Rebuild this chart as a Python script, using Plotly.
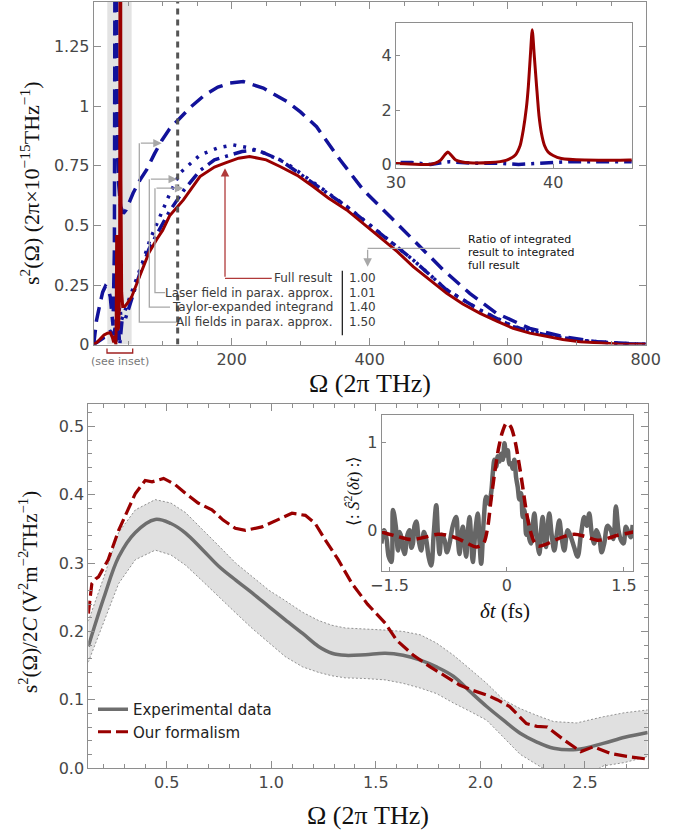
import plotly.graph_objects as go

# ---------------- data: top panel (Omega in 2pi THz) ----------------
omega_full = [0, 5, 10, 15, 20, 24, 27, 29, 30, 32.1, 32.5, 32.84, 33.1, 33.3, 33.5, 33.8, 34.2,
              34.63, 36.0, 37.0, 37.58, 37.9, 38.1, 38.3, 38.42, 38.55, 38.67, 38.8, 38.95, 39.1,
              39.26, 39.45, 39.68, 40.0, 40.52, 42.0, 44.84, 48, 55, 67, 80, 91, 100, 110, 130,
              154, 175, 190, 210, 226, 250, 270, 295, 318, 340, 366.7, 390, 415, 440, 463, 487,
              511.6, 535, 560, 585, 608, 632, 656, 680, 705, 730, 760, 800]
s2_full = [0.0, 0.01, 0.025, 0.04, 0.048, 0.05, 0.03, 0.01, 0.037, 0.0, 0.05, 0.16, 0.35, 0.46,
           0.35, 0.16, 0.09, 0.06, 0.07, 0.15, 0.34, 0.7, 1.27, 2.1, 2.86, 4.0, 4.96, 4.0, 2.86,
           1.8, 1.14, 0.7, 0.46, 0.33, 0.22, 0.16, 0.16, 0.17, 0.2, 0.29, 0.385, 0.44, 0.48,
           0.54, 0.607, 0.705, 0.745, 0.761, 0.782, 0.789, 0.775, 0.747, 0.71, 0.663, 0.615,
           0.565, 0.51, 0.453, 0.39, 0.327, 0.27, 0.215, 0.17, 0.131, 0.097, 0.068, 0.048,
           0.033, 0.021, 0.012, 0.007, 0.003, 0.001]

omega_allpar = [0, 4, 9, 13, 17, 21, 24, 26, 28, 30, 31, 32, 33, 34, 36, 39, 43, 47, 52, 57, 67,
                77, 88, 98.5, 110, 120, 140, 160, 180, 197.5, 216.8, 245.8, 279.7, 300, 323, 357,
                390.7, 429.4, 468, 506.7, 545, 584, 632, 680.6, 729, 770, 800]
s2_allpar = [0, 0.1, 0.17, 0.22, 0.245, 0.235, 0.2, 0.12, 0.08, 0.4, 2.5, 3.5, 1.6, 0.95, 0.68,
             0.58, 0.55, 0.565, 0.6, 0.635, 0.69, 0.735, 0.8, 0.855, 0.905, 0.935, 0.995, 1.045,
             1.08, 1.097, 1.103, 1.076, 1.02, 0.975, 0.914, 0.775, 0.649, 0.537, 0.425, 0.313,
             0.215, 0.131, 0.068, 0.033, 0.012, 0.004, 0.001]

omega_laser = [0, 5, 10, 15, 20, 25, 28, 30, 31, 32.2, 33.4, 35, 36.7, 37.8, 39.5, 41, 45, 50,
               55, 67, 80, 91, 100, 110, 130, 154, 175, 197.5, 215, 236, 270, 318, 366.7, 415,
               463, 511.6, 560, 608, 656, 705, 755, 800]
s2_laser = [0, 0.01, 0.02, 0.03, 0.04, 0.05, 0.03, 0.07, 0.07, 0.0, 0.1, 0.04, 0.04, 0.0, 0.04,
            0.1, 0.1, 0.15, 0.19, 0.3, 0.4, 0.46, 0.505, 0.56, 0.645, 0.73, 0.775, 0.796, 0.81,
            0.817, 0.775, 0.677, 0.579, 0.467, 0.355, 0.229, 0.145, 0.075, 0.04, 0.018, 0.005,
            0.001]

omega_taylor = [0, 10, 20, 28, 32, 35, 38, 40, 45, 55, 63, 72, 81.6, 96, 110.6, 125, 154, 180,
                202, 226, 250, 280, 318, 366.7, 415, 463, 511.6, 560, 608, 656, 705, 755, 800]
s2_taylor = [0, 0.02, 0.05, 0.06, 0.05, 0.12, 0.16, 0.1, 0.14, 0.22, 0.28, 0.355, 0.44, 0.537,
             0.635, 0.72, 0.795, 0.825, 0.838, 0.825, 0.8, 0.76, 0.68, 0.58, 0.468, 0.355, 0.23,
             0.145, 0.077, 0.04, 0.018, 0.006, 0.001]

row_labels = ["Full result", "Laser field in parax. approx.",
              "Taylor-expanded integrand", "All fields in parax. approx."]
row_ratios = ["1.00", "1.01", "1.40", "1.50"]

# ---------------- data: bottom panel (Omega in 2pi THz) ----------------
omega_exp = [0.125, 0.2, 0.27, 0.35, 0.445, 0.52, 0.59, 0.67, 0.75, 0.83, 0.91, 0.99, 1.067,
             1.15, 1.226, 1.29, 1.354, 1.45, 1.545, 1.63, 1.713, 1.79, 1.872, 1.95, 2.03, 2.11,
             2.19, 2.27, 2.35, 2.46, 2.587, 2.69, 2.8]
exp_mid = [0.178, 0.25, 0.309, 0.345, 0.364, 0.358, 0.344, 0.32, 0.295, 0.275, 0.256, 0.236,
           0.217, 0.197, 0.178, 0.168, 0.165, 0.166, 0.168, 0.165, 0.158, 0.148, 0.134, 0.112,
           0.09, 0.07, 0.051, 0.038, 0.029, 0.027, 0.036, 0.045, 0.052]
exp_hi = [0.215, 0.28, 0.345, 0.378, 0.393, 0.388, 0.374, 0.35, 0.325, 0.3, 0.28, 0.26, 0.245,
          0.228, 0.216, 0.209, 0.205, 0.204, 0.202, 0.2, 0.195, 0.183, 0.165, 0.145, 0.124, 0.1,
          0.087, 0.077, 0.068, 0.066, 0.075, 0.081, 0.085]
exp_lo = [0.155, 0.215, 0.27, 0.305, 0.319, 0.312, 0.297, 0.274, 0.25, 0.227, 0.204, 0.183,
          0.163, 0.148, 0.14, 0.135, 0.132, 0.131, 0.129, 0.124, 0.117, 0.109, 0.095, 0.083,
          0.07, 0.045, 0.02, 0.005, -0.01, -0.02, 0.003, 0.008, 0.017]

omega_model = [0.125, 0.135, 0.142, 0.16, 0.174, 0.22, 0.27, 0.31, 0.35, 0.397, 0.43, 0.485,
               0.54, 0.59, 0.65, 0.716, 0.77, 0.828, 0.876, 0.955, 1.03, 1.099, 1.163, 1.21,
               1.258, 1.32, 1.386, 1.46, 1.545, 1.6, 1.68, 1.76, 1.83, 1.9, 1.96, 2.03, 2.08,
               2.14, 2.22, 2.27, 2.32, 2.4, 2.48, 2.54, 2.62, 2.7, 2.8]
model_val = [0.226, 0.25, 0.27, 0.277, 0.28, 0.305, 0.348, 0.375, 0.402, 0.421, 0.419, 0.424,
             0.415, 0.402, 0.388, 0.378, 0.363, 0.351, 0.348, 0.353, 0.363, 0.373, 0.37, 0.358,
             0.334, 0.305, 0.27, 0.24, 0.212, 0.187, 0.165, 0.148, 0.135, 0.1215, 0.114, 0.107,
             0.1, 0.09, 0.065, 0.061, 0.06, 0.041, 0.024, 0.031, 0.0215, 0.017, 0.013]

# ---------------- data: bottom inset (delta t in fs) ----------------
dt_meas = [-1.604, -1.57, -1.541, -1.51, -1.477, -1.455, -1.42, -1.392, -1.37, -1.349, -1.33,
           -1.306, -1.27, -1.243, -1.22, -1.2, -1.18, -1.157, -1.125, -1.094, -1.06, -1.03, -1.0,
           -0.966, -0.935, -0.902, -0.88, -0.859, -0.83, -0.796, -0.765, -0.732, -0.69, -0.647,
           -0.625, -0.604, -0.58, -0.561, -0.54, -0.519, -0.5, -0.476, -0.455, -0.434, -0.4,
           -0.37, -0.35, -0.327, -0.295, -0.263, -0.23, -0.2, -0.178, -0.157, -0.135, -0.114,
           -0.093, -0.072, -0.05, -0.029, -0.008, 0.013, 0.035, 0.056, 0.077, 0.098, 0.12, 0.141,
           0.162, 0.184, 0.205, 0.226, 0.248, 0.269, 0.29, 0.311, 0.333, 0.354, 0.38, 0.418,
           0.44, 0.46, 0.48, 0.503, 0.525, 0.545, 0.575, 0.609, 0.64, 0.673, 0.705, 0.737, 0.78,
           0.822, 0.865, 0.907, 0.95, 0.992, 1.025, 1.056, 1.09, 1.12, 1.15, 1.184, 1.215,
           1.248, 1.29, 1.333, 1.365, 1.397, 1.43, 1.461, 1.495, 1.525, 1.56, 1.588, 1.612]
S_meas = [-0.15, 0.0, -0.08, -0.3, -0.36, 0.23, 0.05, -0.23, -0.02, -0.08, -0.2, -0.27, -0.05,
          0.0, -0.2, -0.15, 0.05, 0.1, -0.12, -0.23, -0.02, -0.11, -0.3, -0.4, -0.05, 0.285,
          -0.05, -0.27, -0.05, -0.11, -0.25, -0.15, 0.05, 0.15, -0.1, -0.27, -0.05, 0.04, -0.15,
          -0.3, -0.05, 0.15, -0.1, -0.36, 0.0, 0.19, -0.1, -0.38, 0.1, 0.38, 0.3, 0.42, 0.65,
          0.8, 0.72, 0.84, 0.78, 0.87, 0.8, 0.99, 0.85, 0.91, 0.75, 0.76, 0.7, 0.8, 0.6, 0.49,
          0.35, 0.42, 0.15, 0.23, -0.05, 0.11, -0.1, -0.15, 0.05, 0.19, -0.05, -0.27, 0.0, 0.15,
          -0.05, -0.19, 0.05, 0.19, -0.05, -0.23, -0.05, 0.11, -0.1, -0.23, 0.0, -0.08, -0.2,
          -0.3, -0.05, 0.15, 0.05, 0.19, -0.05, -0.15, 0.0, -0.08, -0.25, -0.15, 0.05, 0.0, -0.1,
          0.27, 0.0, -0.11, -0.15, 0.04, -0.03, -0.08, 0.06]
dt_model = [-1.6, -1.4, -1.22, -1.05, -0.88, -0.75, -0.625, -0.5, -0.39, -0.3, -0.25, -0.2,
            -0.15, -0.1, -0.05, 0.0, 0.05, 0.1, 0.15, 0.2, 0.25, 0.3, 0.35, 0.4, 0.5, 0.61,
            0.74, 0.865, 1.0, 1.16, 1.3, 1.42, 1.62]
S_model = [-0.02, -0.07, -0.106, -0.08, -0.046, -0.06, -0.095, -0.15, -0.19, -0.15, 0.0, 0.35,
           0.68, 0.95, 1.13, 1.22, 1.18, 1.04, 0.8, 0.52, 0.22, 0.0, -0.13, -0.18, -0.16,
           -0.114, -0.07, -0.046, -0.07, -0.114, -0.09, -0.057, -0.02]

# ---------------- styles ----------------
W, H = 689, 837
RED = "#990000"
BLUE = "#12129a"
GRAY = "#6e6e6e"
AX = "#8e8e8e"
TICKF = dict(family="DejaVu Sans", size=16, color="#474747")
SERIF = "Liberation Serif"

fig = go.Figure()

# top main
fig.add_trace(go.Scatter(x=omega_allpar, y=s2_allpar, mode="lines", xaxis="x", yaxis="y",
                         line=dict(color=BLUE, width=3.5, dash="15px,8px"), showlegend=False))
fig.add_trace(go.Scatter(x=omega_taylor, y=s2_taylor, mode="lines", xaxis="x", yaxis="y",
                         line=dict(color=BLUE, width=3.5, dash="3px,7px"), showlegend=False))
fig.add_trace(go.Scatter(x=omega_laser, y=s2_laser, mode="lines", xaxis="x", yaxis="y",
                         line=dict(color=BLUE, width=3.5, dash="13px,6px,3px,6px"), showlegend=False))
fig.add_trace(go.Scatter(x=omega_full, y=s2_full, mode="lines", xaxis="x", yaxis="y",
                         line=dict(color=RED, width=3), showlegend=False))

# top inset
fig.add_trace(go.Scatter(x=omega_laser, y=s2_laser, mode="lines", xaxis="x3", yaxis="y3",
                         line=dict(color=BLUE, width=3.5, dash="13px,6px,3px,6px"), showlegend=False))
fig.add_trace(go.Scatter(x=omega_full, y=s2_full, mode="lines", xaxis="x3", yaxis="y3",
                         line=dict(color=RED, width=3, shape="spline", smoothing=0.6),
                         showlegend=False))

# bottom main
fig.add_trace(go.Scatter(x=omega_exp, y=exp_lo, mode="lines", xaxis="x2", yaxis="y2",
                         line=dict(color="#7a7a7a", width=0.8, dash="2px,2px"), showlegend=False))
fig.add_trace(go.Scatter(x=omega_exp, y=exp_hi, mode="lines", xaxis="x2", yaxis="y2",
                         fill="tonexty", fillcolor="#e0e0e0",
                         line=dict(color="#7a7a7a", width=0.8, dash="2px,2px"), showlegend=False))
fig.add_trace(go.Scatter(x=omega_exp, y=exp_mid, mode="lines", xaxis="x2", yaxis="y2",
                         line=dict(color=GRAY, width=3.5, shape="spline"),
                         name="Experimental data", legendgroup="a"))
fig.add_trace(go.Scatter(x=omega_model, y=model_val, mode="lines", xaxis="x2", yaxis="y2",
                         line=dict(color=RED, width=3.2, dash="13px,5px"),
                         name="Our formalism", legendgroup="b"))

# bottom inset
fig.add_trace(go.Scatter(x=dt_meas, y=S_meas, mode="lines", xaxis="x4", yaxis="y4",
                         line=dict(color="#666666", width=4.5, shape="spline"), showlegend=False))
fig.add_trace(go.Scatter(x=dt_model, y=S_model, mode="lines", xaxis="x4", yaxis="y4",
                         line=dict(color=RED, width=3.5, dash="12px,6px", shape="spline"),
                         showlegend=False))

def frame_axis(**kw):
    d = dict(showline=True, linecolor=AX, linewidth=1, mirror="allticks", ticks="inside",
             ticklen=7, tickcolor=AX, tickwidth=1, tickfont=TICKF, showgrid=False,
             zeroline=False, automargin=False)
    d.update(kw)
    return d

def inset_axis(**kw):
    d = dict(showline=True, linecolor=AX, mirror=True, ticks="inside", ticklen=4,
             tickcolor=AX, tickfont=TICKF, showgrid=False, zeroline=False, automargin=False)
    d.update(kw)
    return d

fig.update_layout(
    width=W, height=H, margin=dict(l=0, r=0, t=0, b=0, autoexpand=False),
    paper_bgcolor="white", plot_bgcolor="white",
    xaxis=frame_axis(domain=[93.7 / W, 645.7 / W], range=[0, 800], anchor="y",
                     tickmode="array", tickvals=[0, 200, 400, 600, 800],
                     ticktext=["", "200", "400", "600", "800"],
                     minor=dict(tick0=0, dtick=50, ticklen=4, ticks="inside", tickcolor=AX)),
    yaxis=frame_axis(domain=[1 - 344.6 / H, 1 - 2 / H], range=[0, 1.437], anchor="x",
                     tickmode="array", tickvals=[0, 0.25, 0.5, 0.75, 1, 1.25],
                     ticktext=["0", "0.25", "0.5", "0.75", "1", "1.25"]),
    xaxis2=frame_axis(domain=[88.3 / W, 647.7 / W], range=[0.125, 2.8], anchor="y2",
                      tickmode="array", tickvals=[0.5, 1.0, 1.5, 2.0, 2.5],
                      ticktext=["0.5", "1.0", "1.5", "2.0", "2.5"],
                      minor=dict(tick0=0, dtick=0.1, ticklen=4, ticks="inside", tickcolor=AX)),
    yaxis2=frame_axis(domain=[1 - 768 / H, 1 - 404 / H], range=[0, 0.533], anchor="x2",
                      tickmode="array", tickvals=[0, 0.1, 0.2, 0.3, 0.4, 0.5],
                      ticktext=["0.0", "0.1", "0.2", "0.3", "0.4", "0.5"],
                      minor=dict(tick0=0, dtick=0.02, ticklen=4, ticks="inside", tickcolor=AX)),
    xaxis3=inset_axis(domain=[396 / W, 631.7 / W], range=[30, 45], anchor="y3",
                      tickvals=[30, 40]),
    yaxis3=inset_axis(domain=[1 - 167.7 / H, 1 - 22.7 / H], range=[-0.12, 5.22], anchor="x3",
                      tickvals=[0, 2, 4]),
    xaxis4=inset_axis(domain=[381.7 / W, 633.3 / W], range=[-1.6, 1.62], anchor="y4",
                      tickvals=[-1.5, 0, 1.5], ticktext=["−1.5", "0", "1.5"]),
    yaxis4=inset_axis(domain=[1 - 570.7 / H, 1 - 415 / H], range=[-0.46, 1.31], anchor="x4",
                      tickvals=[0, 1]),
    legend=dict(x=93 / W, y=1 - 693 / H, xanchor="left", yanchor="top", traceorder="normal",
                bgcolor="rgba(0,0,0,0)", font=dict(family="DejaVu Sans", size=15, color="#222"),
                itemwidth=30, tracegroupgap=4),
)

shapes = []
# shaded region and dotted marker line in top panel
shapes.append(dict(type="rect", xref="x", yref="y", x0=19.7, x1=55, y0=0, y1=1.437,
                   fillcolor="#e3e3e3", line=dict(width=0), layer="below"))
shapes.append(dict(type="line", xref="x", yref="y", x0=121.7, x1=121.7, y0=0, y1=1.437,
                   line=dict(color="#555555", width=3, dash="6px,5px"), layer="above"))
GL = dict(color="#a8a8a8", width=1.3)
shapes.append(dict(type="path", xref="x", yref="y", line=GL,
                   path="M 103.5,0.218 L 88.8,0.218 L 88.8,0.656"))
shapes.append(dict(type="path", xref="x", yref="y", line=GL,
                   path="M 110.6,0.157 L 80.6,0.157 L 80.6,0.694"))
shapes.append(dict(type="path", xref="x", yref="y", line=GL,
                   path="M 119.3,0.094 L 66.1,0.094 L 66.1,0.845"))
shapes.append(dict(type="line", xref="x", yref="y", x0=258, x1=190.3, y0=0.278, y1=0.278,
                   line=dict(color="#b03a3a", width=1.3)))
shapes.append(dict(type="line", xref="x", yref="y", x0=531, x1=397, y0=0.404, y1=0.404,
                   line=GL))
shapes.append(dict(type="line", xref="x", yref="y", x0=360.3, x1=360.3, y0=0.039, y1=0.31,
                   line=dict(color="#111", width=1.2)))
# red "see inset" bracket (outside axes -> paper coords)
shapes.append(dict(type="path", xref="paper", yref="paper",
                   line=dict(color="#a02020", width=1.3),
                   path=f"M {107/W},{1-348.5/H} L {107/W},{1-353/H} L {132.7/W},{1-353/H} L {132.7/W},{1-348.5/H}"))
fig.update_layout(shapes=shapes)

ann = []
def arrow(hx, hy, tx, ty, color):
    return dict(x=hx, y=hy, ax=tx, ay=ty, xref="x", yref="y", axref="x", ayref="y",
                showarrow=True, arrowhead=2, arrowsize=1.3, arrowwidth=1.3,
                arrowcolor=color, text="")
ann.append(arrow(129.9, 0.656, 88.8, 0.656, "#a8a8a8"))
ann.append(arrow(120.7, 0.694, 80.6, 0.694, "#a8a8a8"))
ann.append(arrow(98.6, 0.845, 66.1, 0.845, "#a8a8a8"))
ann.append(arrow(190.3, 0.74, 190.3, 0.278, "#b03a3a"))
ann.append(arrow(397, 0.327, 397, 0.404, "#a8a8a8"))

LF = dict(family="DejaVu Sans", size=12, color="#3a3a3a")
row_y = [0.278, 0.218, 0.157, 0.094]
for lab, r, yy in zip(row_labels, row_ratios, row_y):
    ann.append(dict(x=350, y=yy, xref="x", yref="y", text=lab, showarrow=False,
                    xanchor="right", yanchor="middle", font=LF))
    ann.append(dict(x=367.5, y=yy, xref="x", yref="y", text=r, showarrow=False,
                    xanchor="left", yanchor="middle", font=LF))
for txt, yy in zip(["Ratio of integrated", "result to integrated", "full result"],
                   [0.442, 0.386, 0.330]):
    ann.append(dict(x=541.4, y=yy, xref="x", yref="y", text=txt, showarrow=False,
                    xanchor="left", yanchor="middle", borderpad=0,
                    font=dict(family="DejaVu Sans", size=11, color="#111")))

def ptext(px, py, text, font, angle=0):
    return dict(x=px / W, y=1 - py / H, xref="paper", yref="paper", text=text,
                showarrow=False, xanchor="center", yanchor="middle", textangle=angle,
                font=font)

ann.append(ptext(120, 361, "(see inset)", dict(family="DejaVu Sans", size=11, color="#777")))
ann.append(ptext(370, 383, "Ω (2π THz)", dict(family=SERIF, size=26, color="#111")))
ann.append(ptext(368, 815, "Ω (2π THz)", dict(family=SERIF, size=26, color="#111")))
ann.append(ptext(30, 183, "s<sup>2</sup>(Ω) (2π×10<sup>−15</sup>THz<sup>−1</sup>)",
                 dict(family=SERIF, size=22, color="#111"), -90))
ann.append(ptext(28, 592,
                 "s<sup>2</sup>(Ω)/2<i>C</i> (V<sup>2</sup>m<sup>−2</sup>THz<sup>−1</sup>)",
                 dict(family=SERIF, size=21, color="#111"), -90))
ann.append(ptext(352, 491, "⟨: <i>Ŝ</i><sup>2</sup>(<i>δt</i>) :⟩",
                 dict(family=SERIF, size=17, color="#111"), -90))
ann.append(ptext(505, 611, "<i>δt</i> (fs)", dict(family=SERIF, size=21, color="#111")))
fig.update_layout(annotations=ann)

fig.write_html("out.html", post_script="document.body.style.margin='0';",
               config={"displayModeBar": False})
